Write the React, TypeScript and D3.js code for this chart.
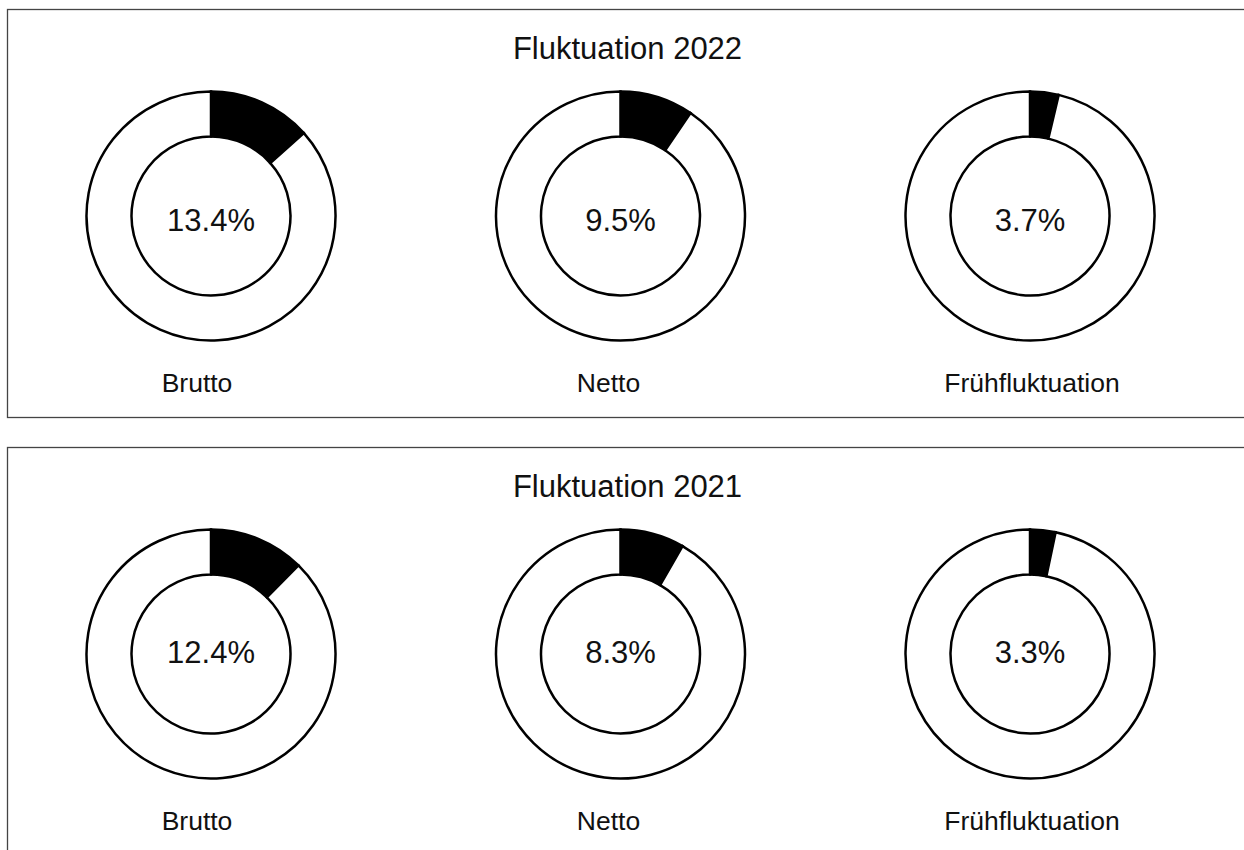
import * as d3 from "d3";

const years = ["2022", "2021"];
const categories = ["Brutto", "Netto", "Frühfluktuation"];
const rates2022 = [13.4, 9.5, 3.7];
const rates2021 = [12.4, 8.3, 3.3];

const W = 1244;
const H = 850;
const FONT = "'Liberation Sans', Arial, Helvetica, sans-serif";

// layout
const panelLeft = 7.5;
const panelHeight = 408;
const panelGap = 30;
const outerR = 124.5;
const innerR = 79.5;
const labelDx = [-14, -12, 2];
const pctDy = [15, 9];

const x = d3.scalePoint<string>().domain(categories).range([211, 1030]);
const panelY = d3
  .scalePoint<string>()
  .domain(years)
  .range([9.5, 9.5 + panelHeight + panelGap]);

const pie = d3
  .pie<number>()
  .value((d) => d)
  .sort(null);

const arc = d3
  .arc<d3.PieArcDatum<number>>()
  .innerRadius(innerR)
  .outerRadius(outerR);

const fmt = (v: number) => d3.format(".1f")(v) + "%";

function Panel({ year, rates, idx }: { year: string; rates: number[]; idx: number }) {
  const top = panelY(year)!;
  const cy = top + 206.5;
  return (
    <g>
      <rect
        x={panelLeft}
        y={top}
        width={W}
        height={panelHeight}
        fill="#fff"
        stroke="#444"
        strokeWidth={1.3}
      />
      <text
        x={panelLeft + W / 2 - 2}
        y={top + 49.5}
        textAnchor="middle"
        fontSize={31}
        fill="#111"
      >
        {"Fluktuation " + year}
      </text>
      {categories.map((c, i) => {
        const cx = x(c)!;
        const slices = pie([rates[i], 100 - rates[i]]);
        return (
          <g key={c}>
            <g transform={`translate(${cx},${cy})`}>
              {slices.map((s, j) => (
                <path
                  key={j}
                  d={arc(s) as string}
                  fill={j === 0 ? "#000" : "#fff"}
                  stroke="#000"
                  strokeWidth={2.5}
                  strokeLinejoin="miter"
                />
              ))}
              <text
                x={0}
                y={pctDy[idx]}
                textAnchor="middle"
                fontSize={31}
                fill="#111"
              >
                {fmt(rates[i])}
              </text>
            </g>
            <text
              x={cx + labelDx[i]}
              y={top + 382.5}
              textAnchor="middle"
              fontSize={26.5}
              fill="#111"
            >
              {c}
            </text>
          </g>
        );
      })}
    </g>
  );
}

export default function App() {
  const allRates = [rates2022, rates2021];
  return (
    <svg
      width={W}
      height={H}
      style={{ position: "absolute", left: 0, top: 0, background: "#fff" }}
      fontFamily={FONT}
    >
      <rect width={W} height={H} fill="#fff" />
      {years.map((y, i) => (
        <Panel key={y} year={y} rates={allRates[i]} idx={i} />
      ))}
    </svg>
  );
}
